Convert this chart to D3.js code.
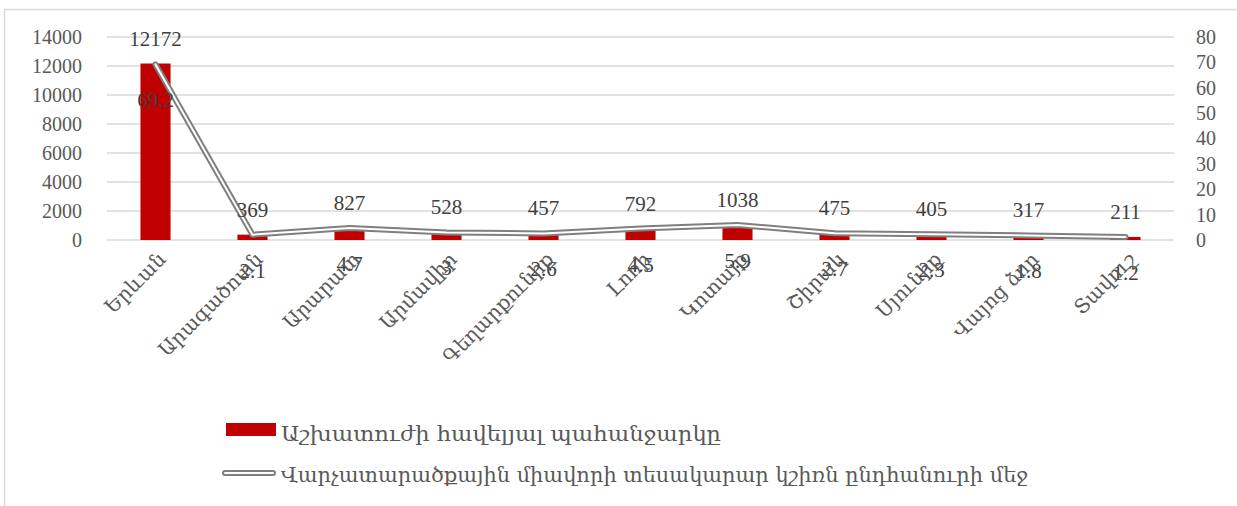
<!DOCTYPE html>
<html><head><meta charset="utf-8">
<script src="https://cdn.jsdelivr.net/npm/d3@7"></script>
<style>
body{margin:0;background:#fff;}
svg{display:block;}
</style></head>
<body>
<svg id="c" width="1237" height="506"></svg>
<script>
const categories = ["Երևան","Արագածոտն","Արարատ","Արմավիր","Գեղարքունիք","Լոռի","Կոտայք","Շիրակ","Սյունիք","Վայոց ձոր","Տավուշ"];
const demand = [12172, 369, 827, 528, 457, 792, 1038, 475, 405, 317, 211];
const share = [69.2, 2.1, 4.7, 3, 2.6, 4.5, 5.9, 2.7, 2.3, 1.8, 1.2];
const leftTicks = [0,2000,4000,6000,8000,10000,12000,14000];
const rightTicks = [0,10,20,30,40,50,60,70,80];
const legendLabels = ["Աշխատուժի հավելյալ պահանջարկը","Վարչատարածքային միավորի տեսակարար կշիռն ընդհանուրի մեջ"];

const svg = d3.select("#c");
const numFont = "'Liberation Serif','DejaVu Serif',serif";
const armFont = "'DejaVu Serif','DejaVu Sans',serif";
const txt = "#404040";

// frame
svg.append("rect").attr("x",4.5).attr("y",9.5).attr("width",1250).attr("height",520)
  .attr("fill","none").attr("stroke","#d9d9d9").attr("stroke-width",1.5);

const L=107, R=1174, T=37, B=240;
const x = d3.scaleBand().domain(categories).range([L,R]).paddingInner(0.69).paddingOuter(0.345);
const y = d3.scaleLinear().domain([0,14000]).range([B,T]);
const y2 = d3.scaleLinear().domain([0,80]).range([B,T]);

// gridlines
svg.append("g").selectAll("line").data(leftTicks).join("line")
  .attr("x1",L).attr("x2",R).attr("y1",d=>y(d)).attr("y2",d=>y(d))
  .attr("stroke","#d9d9d9").attr("stroke-width",1.3);

// left axis
const ax = svg.append("g").attr("transform",`translate(${L},0)`)
  .call(d3.axisLeft(y).tickValues(leftTicks).tickFormat(d=>String(d)).tickSize(0).tickPadding(25));
ax.select(".domain").remove();
ax.selectAll("text").attr("font-family",numFont).attr("font-size",20).attr("fill","#595959");

// right axis
const ax2 = svg.append("g").attr("transform",`translate(${R},0)`)
  .call(d3.axisRight(y2).tickValues(rightTicks).tickFormat(d=>String(d)).tickSize(0).tickPadding(22));
ax2.select(".domain").remove();
ax2.selectAll("text").attr("font-family",numFont).attr("font-size",20).attr("fill","#595959");

// bars
svg.append("g").selectAll("rect").data(demand).join("rect")
  .attr("x",(d,i)=>x(categories[i])).attr("width",x.bandwidth())
  .attr("y",d=>y(d)).attr("height",d=>B-y(d)).attr("fill","#c00000");

// line (double)
const cx = i => x(categories[i]) + x.bandwidth()/2;
const line = d3.line().x((d,i)=>cx(i)).y(d=>y2(d));
svg.append("path").datum(share).attr("d",line).attr("fill","none")
  .attr("stroke","#7f7f7f").attr("stroke-width",6).attr("stroke-linejoin","round").attr("stroke-linecap","round");
svg.append("path").datum(share).attr("d",line).attr("fill","none")
  .attr("stroke","#ffffff").attr("stroke-width",2).attr("stroke-linejoin","round").attr("stroke-linecap","round");

// bar labels
svg.append("g").selectAll("text").data(demand).join("text")
  .attr("x",(d,i)=>cx(i)).attr("y",d=>y(d)-18)
  .attr("text-anchor","middle").attr("font-family",numFont).attr("font-size",21).attr("fill",txt)
  .text(d=>d);

// line labels
svg.append("g").selectAll("text").data(share).join("text")
  .attr("x",(d,i)=>cx(i)).attr("y",d=>y2(d)+43)
  .attr("text-anchor","middle").attr("font-family",numFont).attr("font-size",21).attr("fill",txt)
  .text(d=>d);

// category labels
svg.append("g").selectAll("text").data(categories).join("text")
  .attr("transform",(d,i)=>`translate(${cx(i)+1},${250}) rotate(-45)`)
  .attr("text-anchor","end").attr("dy","0.75em")
  .attr("font-family",armFont).attr("font-size",20).attr("fill","#595959")
  .text(d=>d);

// legend
const lg = svg.append("g");
lg.append("rect").attr("x",226).attr("y",423).attr("width",50).attr("height",13).attr("fill","#c00000");
lg.append("text").attr("x",281).attr("y",441).attr("font-family",armFont).attr("font-size",21)
  .attr("fill","#595959").attr("textLength",440).attr("lengthAdjust","spacingAndGlyphs").text(legendLabels[0]);
lg.append("line").attr("x1",225).attr("x2",273).attr("y1",473).attr("y2",473)
  .attr("stroke","#7f7f7f").attr("stroke-width",6).attr("stroke-linecap","round");
lg.append("line").attr("x1",225).attr("x2",273).attr("y1",473).attr("y2",473)
  .attr("stroke","#fff").attr("stroke-width",2).attr("stroke-linecap","round");
lg.append("text").attr("x",281).attr("y",482).attr("font-family",armFont).attr("font-size",21)
  .attr("fill","#595959").attr("textLength",747).attr("lengthAdjust","spacingAndGlyphs").text(legendLabels[1]);
</script>
</body></html>
